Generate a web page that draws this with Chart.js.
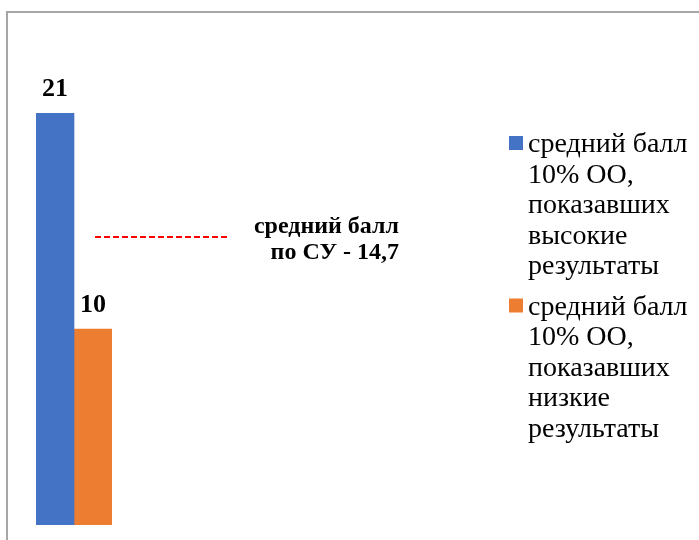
<!DOCTYPE html>
<html>
<head>
<meta charset="utf-8">
<script src="https://cdn.jsdelivr.net/npm/chart.js@4"></script>
<style>
    html, body { margin: 0; padding: 0; background: #fff; overflow: hidden; }
    #frame {
        position: absolute; left: 6px; top: 11px; width: 800px; height: 700px;
        border-left: 2px solid #a6a6a6; border-top: 2px solid #a6a6a6;
    }
    #chart { position: absolute; left: 0; top: 0; }
</style>
</head>
<body>
<div id="frame"></div>
<canvas id="chart" width="699" height="540"></canvas>
<script>
// Chart data
const categories = [''];
const highValues = [21];
const lowValues = [10];
const averageValue = 14.7;
const averageLabel = ['средний балл', 'по СУ - 14,7'];
const seriesLabels = [
    ['средний балл', '10% ОО,', 'показавших', 'высокие', 'результаты'],
    ['средний балл', '10% ОО,', 'показавших', 'низкие', 'результаты']
];
const seriesColors = ['#4472c4', '#ed7d31'];

const SERIF = '"Liberation Serif", "Times New Roman", serif';

// Value labels above the bars
const valueLabels = {
    id: 'valueLabels',
    afterDatasetsDraw(chart) {
        const ctx = chart.ctx;
        ctx.save();
        ctx.font = 'bold 26px ' + SERIF;
        ctx.fillStyle = '#000';
        ctx.textAlign = 'center';
        ctx.textBaseline = 'alphabetic';
        chart.data.datasets.forEach((ds, i) => {
            chart.getDatasetMeta(i).data.forEach((bar, j) => {
                ctx.fillText(String(ds.data[j]), bar.x, bar.y - 17);
            });
        });
        ctx.restore();
    }
};

// Dashed average line with its caption
const averageLine = {
    id: 'averageLine',
    afterDatasetsDraw(chart) {
        const ctx = chart.ctx;
        const y = chart.scales.y.getPixelForValue(averageValue);
        ctx.save();
        ctx.strokeStyle = '#ff0000';
        ctx.lineWidth = 2;
        ctx.setLineDash([6, 3]);
        ctx.beginPath();
        ctx.moveTo(95, y);
        ctx.lineTo(228, y);
        ctx.stroke();
        ctx.setLineDash([]);
        ctx.font = 'bold 24px ' + SERIF;
        ctx.fillStyle = '#000';
        ctx.textAlign = 'right';
        ctx.fillText(averageLabel[0], 399, 233);
        ctx.fillText(averageLabel[1], 399, 259);
        ctx.restore();
    }
};

// Legend on the right, multi-line entries
const sideLegend = {
    id: 'sideLegend',
    afterDraw(chart) {
        const ctx = chart.ctx;
        ctx.save();
        ctx.font = '28px ' + SERIF;
        ctx.fillStyle = '#000';
        ctx.textAlign = 'left';
        let baseline = 152;
        seriesLabels.forEach((lines, i) => {
            ctx.fillStyle = seriesColors[i];
            ctx.fillRect(509, baseline - 16, 14, 14);
            ctx.fillStyle = '#000';
            lines.forEach(line => {
                ctx.fillText(line, 528, baseline);
                baseline += 30.5;
            });
            baseline += 10;
        });
        ctx.restore();
    }
};

new Chart(document.getElementById('chart'), {
    type: 'bar',
    data: {
        labels: categories,
        datasets: [
            { label: seriesLabels[0].join(' '), data: highValues, backgroundColor: seriesColors[0] },
            { label: seriesLabels[1].join(' '), data: lowValues, backgroundColor: seriesColors[1] }
        ]
    },
    options: {
        responsive: false,
        animation: false,
        devicePixelRatio: 1,
        layout: { padding: { left: 36, right: 587, top: 35, bottom: 15 } },
        datasets: { bar: { categoryPercentage: 1, barPercentage: 1 } },
        scales: {
            x: { display: false },
            y: { display: false, min: 0, max: 25 }
        },
        plugins: {
            legend: { display: false },
            tooltip: { enabled: false }
        }
    },
    plugins: [valueLabels, averageLine, sideLegend]
});
</script>
</body>
</html>
